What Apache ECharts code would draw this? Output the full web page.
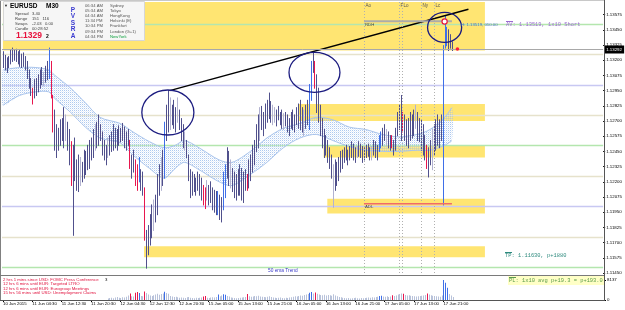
<!DOCTYPE html>
<html><head><meta charset="utf-8">
<script src="https://cdn.jsdelivr.net/npm/echarts@6/dist/echarts.min.js"></script>
<style>html,body{margin:0;padding:0;background:#fff}#c{width:625px;height:310px}</style>
</head><body><div id="c"></div>
<script>
// ================= DATA =================
const timeLabels = ['10 Jun 2015','11 Jun 04:30','11 Jun 12:30','11 Jun 20:30','12 Jun 04:30','12 Jun 12:30','12 Jun 20:30','15 Jun 05:00','15 Jun 13:00','15 Jun 21:00','16 Jun 05:00','16 Jun 13:00','16 Jun 21:00','17 Jun 05:00','17 Jun 13:00','17 Jun 21:00'];
const volumeTicks = [0, 8137];

const highs = [
1.1327,1.1324,1.1322,1.1323,1.1328,1.1330,1.1328,1.1329,1.1327,1.1328,
1.1325,1.1326,1.1323,1.1319,1.1312,1.1305,1.1297,1.1304,1.1305,1.1308,
1.1312,1.1314,1.1310,1.1315,1.1319,1.1330,1.1319,1.1291,1.1279,1.1267,
1.1264,1.1271,1.1272,1.1281,1.1275,1.1269,1.1263,1.1253,1.1250,1.1256,
1.1238,1.1242,1.1240,1.1236,1.1246,1.1245,1.1250,1.1254,1.1256,1.1263,
1.1267,1.1269,1.1275,1.1267,1.1261,1.1254,1.1250,1.1256,1.1258,1.1261,
1.1267,1.1264,1.1263,1.1266,1.1264,1.1268,1.1265,1.1261,1.1263,1.1254,
1.1242,1.1246,1.1238,1.1234,1.1240,1.1230,1.1228,1.1215,1.1180,1.1184,
1.1193,1.1201,1.1205,1.1209,1.1226,1.1234,1.1240,1.1246,1.1269,1.1283,
1.1295,1.1289,1.1283,1.1287,1.1281,1.1289,1.1279,1.1272,1.1267,1.1261,
1.1254,1.1242,1.1230,1.1228,1.1226,1.1223,1.1228,1.1226,1.1223,1.1217,
1.1215,1.1221,1.1217,1.1220,1.1215,1.1213,1.1212,1.1212,1.1209,1.1207,
1.1228,1.1234,1.1248,1.1245,1.1238,1.1231,1.1228,1.1226,1.1230,1.1234,
1.1231,1.1228,1.1230,1.1226,1.1238,1.1242,1.1250,1.1254,1.1267,1.1275,
1.1281,1.1282,1.1277,1.1284,1.1287,1.1293,1.1286,1.1283,1.1281,1.1279,
1.1282,1.1277,1.1279,1.1276,1.1277,1.1275,1.1272,1.1277,1.1279,1.1275,
1.1281,1.1284,1.1287,1.1281,1.1279,1.1283,1.1287,1.1300,1.1319,1.1327,
1.1319,1.1308,1.1297,1.1283,1.1272,1.1263,1.1258,1.1254,1.1248,1.1242,
1.1234,1.1238,1.1236,1.1240,1.1245,1.1246,1.1248,1.1250,1.1246,1.1249,
1.1253,1.1251,1.1248,1.1249,1.1253,1.1251,1.1249,1.1248,1.1250,1.1251,
1.1248,1.1249,1.1254,1.1253,1.1250,1.1258,1.1261,1.1264,1.1267,1.1263,
1.1261,1.1258,1.1258,1.1254,1.1264,1.1277,1.1283,1.1291,1.1277,1.1275,
1.1271,1.1272,1.1277,1.1275,1.1279,1.1283,1.1277,1.1272,1.1271,1.1267,
1.1258,1.1250,1.1248,1.1254,1.1263,1.1267,1.1271,1.1275,1.1271,1.1275,
1.1332,1.1356,1.1347,1.1345,1.1341,1.1335];

const lows = [
1.1314,1.1312,1.1310,1.1314,1.1317,1.1319,1.1320,1.1319,1.1317,1.1315,
1.1314,1.1315,1.1312,1.1305,1.1297,1.1291,1.1284,1.1289,1.1291,1.1294,
1.1297,1.1300,1.1299,1.1302,1.1304,1.1305,1.1289,1.1261,1.1246,1.1240,
1.1246,1.1250,1.1254,1.1248,1.1254,1.1246,1.1234,1.1217,1.1176,1.1221,
1.1213,1.1212,1.1217,1.1220,1.1223,1.1226,1.1230,1.1231,1.1238,1.1240,
1.1246,1.1248,1.1250,1.1254,1.1242,1.1238,1.1234,1.1240,1.1242,1.1245,
1.1246,1.1248,1.1246,1.1250,1.1253,1.1254,1.1248,1.1246,1.1250,1.1231,
1.1223,1.1228,1.1217,1.1213,1.1220,1.1213,1.1209,1.1172,1.1149,1.1160,
1.1168,1.1174,1.1180,1.1187,1.1193,1.1209,1.1213,1.1217,1.1223,1.1254,
1.1261,1.1263,1.1267,1.1264,1.1261,1.1269,1.1263,1.1254,1.1248,1.1246,
1.1240,1.1221,1.1207,1.1209,1.1212,1.1209,1.1213,1.1209,1.1205,1.1201,
1.1198,1.1205,1.1201,1.1203,1.1197,1.1195,1.1193,1.1193,1.1189,1.1187,
1.1197,1.1207,1.1223,1.1217,1.1215,1.1212,1.1207,1.1205,1.1209,1.1209,
1.1205,1.1203,1.1213,1.1213,1.1215,1.1221,1.1228,1.1234,1.1245,1.1248,
1.1254,1.1263,1.1258,1.1264,1.1269,1.1272,1.1269,1.1267,1.1269,1.1266,
1.1271,1.1267,1.1264,1.1263,1.1266,1.1261,1.1258,1.1264,1.1263,1.1261,
1.1267,1.1264,1.1263,1.1261,1.1258,1.1264,1.1267,1.1263,1.1287,1.1310,
1.1297,1.1277,1.1269,1.1258,1.1248,1.1240,1.1242,1.1236,1.1231,1.1223,
1.1199,1.1213,1.1217,1.1221,1.1228,1.1231,1.1236,1.1238,1.1234,1.1238,
1.1240,1.1238,1.1236,1.1240,1.1241,1.1240,1.1236,1.1238,1.1240,1.1241,
1.1238,1.1238,1.1242,1.1240,1.1238,1.1245,1.1248,1.1250,1.1254,1.1250,
1.1248,1.1246,1.1248,1.1242,1.1246,1.1258,1.1263,1.1254,1.1261,1.1254,
1.1250,1.1248,1.1254,1.1256,1.1258,1.1264,1.1254,1.1253,1.1246,1.1242,
1.1238,1.1231,1.1224,1.1234,1.1230,1.1242,1.1246,1.1250,1.1248,1.1254,
1.1201,1.1330,1.1332,1.1328,1.1330,1.1328];

const volumes = [
null,null,null,null,null,null,null,null,null,null,
null,null,null,null,null,null,null,null,null,null,
null,null,null,null,null,null,null,null,null,null,
null,null,null,null,null,null,null,null,null,null,
null,null,null,null,null,null,null,null,null,null,
null,null,null,null,null,null,null,
600,800,900,700,1000,1200,900,800,1100,1000,
1300,1800,2600,1500,1400,3000,3300,2800,1600,1500,
3500,2800,2200,1800,1600,1900,2200,2500,2100,2400,
2600,3400,2800,2500,1600,1400,1200,1300,1100,900,
1000,900,800,1100,1200,900,800,700,900,800,
900,1000,1400,1600,900,800,1000,1100,1000,1200,
2200,1500,1800,2300,2100,1600,1400,1000,900,800,
700,800,900,1000,1100,1200,2400,1500,1300,1400,
1600,1500,1700,1400,1300,1200,1100,1300,1500,1200,
1000,900,800,900,1000,800,700,900,800,1000,
1100,1300,1500,1400,1600,1800,1700,2000,2200,2400,
3000,3300,2600,3100,2500,2200,2000,1900,2100,1800,
2000,1900,1700,2300,1800,1500,1200,1100,900,800,
700,800,600,700,800,900,700,600,800,700,
800,900,1000,900,1100,1000,1200,1300,1600,1700,
1400,1300,1500,1200,1400,1900,1600,1800,2200,2400,
2600,2500,2000,1800,1900,1700,1600,1500,1400,1500,
1600,1700,1800,2000,2600,2200,1900,1700,1600,1500,
1400,1300,1800,8137,7000,5000,2400,1800,1200];

// EMA envelope read at sampled bars
const bandIdx = [0,9,18,25,28,37,45,53,64,71,80,88,94,99,107,118,125,135,144,153,162,171,180,189,198,207,216,226,233,241,245];
const bandTop = [1.1312,1.1314,1.1314,1.1312,1.1308,1.1297,1.1285,1.1273,1.1268,1.1261,1.1253,1.1248,1.1250,1.1254,1.1248,1.1238,1.1236,1.1245,1.1256,1.1264,1.1268,1.1273,1.1271,1.1265,1.1263,1.1259,1.1257,1.1259,1.1263,1.1273,1.1281];
const bandBot = [1.1283,1.1291,1.1294,1.1294,1.1289,1.1277,1.1265,1.1256,1.1252,1.1242,1.1231,1.1223,1.1231,1.1236,1.1230,1.1220,1.1217,1.1226,1.1236,1.1248,1.1256,1.1259,1.1254,1.1249,1.1246,1.1245,1.1245,1.1246,1.1246,1.1250,1.1254];

// supply/demand zones: [startBar, endBar, low, high]
const zones = [[0,263,1.1328,1.1368],[161,263,1.1270,1.1284],[175,263,1.1240,1.1250],[177,263,1.1194,1.1206],[77,263,1.1158,1.1167]];
const levels = [1.1150,1.1175,1.1200,1.1225,1.1250,1.1275,1.1300,1.1325,1.1350];
const sessions = [[197,'Ao'],[216,'F'],[218,'Lo'],[228,'Ny'],[235,'Lc']];
const trendLine = [[91,1.1295],[254,1.1362]];
const ellipses = [[90,1.1277,14.2,0.00185],[170,1.1310,13.9,0.00164],[241,1.1347,9.3,0.00123]];
const rdhLine = [197,245,1.1352];
const adlLine = [197,245,1.1202];
const entry = [241,1.13519];
const lastPrice = 1.13292;
const lastMarkBar = 248;
const Y_MIN = 1.11450, Y_MAX = 1.13679, Y_STEP = 0.00125;

// ================= STYLE =================
const RED = new Set([16,26,27,37,69,72,73,77,109,110,133,170,212,218,231]);
const BLUE = new Set([25,74,88,117,120,121,167,168,205,206,240,241,242]);
const LIGHT = new Set([22,34,42,50,57,82,86,91,95,99,111,124,140,147,148,153,164,180,193,201,209,225,234]);
function barColor(i){ if(RED.has(i)) return '#e8164e'; if(BLUE.has(i)) return '#3f6fe8'; if(LIGHT.has(i)) return '#b2b2d0'; return '#50508c'; }
function volColor(i){ if(RED.has(i)) return '#e8164e'; if(BLUE.has(i)) return '#3f6fe8'; return '#b8c2da'; }
function levelColor(v){ const k = Math.round(v*400)%4; return k===2?'#b4e6ae':(k===0?'#c8c8f2':'#e6e2cc'); }
const FONT = '"Liberation Sans", Arial, sans-serif';
const MONO = '"Liberation Mono", "DejaVu Sans Mono", monospace';

// categories (30-minute bars, Friday closes after 23:00)
const MON = ['Jan','Feb','Mar','Apr','May','Jun','Jul','Aug','Sep','Oct','Nov','Dec'];
const pad = n => (n<10?'0':'')+n;
const cats = [];
for (let t = Date.UTC(2015,5,10,20,30); cats.length < 328; t += 1800000) {
  const d = new Date(t), wd = d.getUTCDay(), h = d.getUTCHours(), m = d.getUTCMinutes();
  if (wd===6 || wd===0 || (wd===5 && h===23 && m===30)) continue;
  cats.push(d.getUTCDate()+' '+MON[d.getUTCMonth()]+' '+pad(h)+':'+pad(m));
}

// dotted pattern for the EMA band
const pat = document.createElement('canvas'); pat.width = 2; pat.height = 2;
const pg = pat.getContext('2d'); pg.fillStyle = 'rgba(160,192,236,0.85)'; pg.fillRect(0,0,1,1); pg.fillStyle='rgba(205,222,246,0.5)'; pg.fillRect(1,1,1,1);

function txt(x, y, text, size, color, o) {
  o = o || {};
  return {type:'text', x:x, y:y, z:100, silent:true, style:{text:text, font:(o.bold?'bold ':'')+size+'px '+(o.mono?MONO:FONT), fill:color, align:o.align||'left', verticalAlign:'middle'}};
}
function ln(x1,y1,x2,y2,c,w){ return {type:'line', z:90, silent:true, shape:{x1:x1,y1:y1,x2:x2,y2:y2}, style:{stroke:c, lineWidth:w||1}}; }

const tickShow = (idx) => idx % 16 === 0 && idx/16 < timeLabels.length;

const chart = echarts.init(document.getElementById('c'), null, {renderer:'canvas', width:625, height:310});

const option = {
  animation: false,
  backgroundColor: '#ffffff',
  grid: [
    {left:2, top:2, width:602, height:271},
    {left:2, top:280, width:602, height:20}
  ],
  xAxis: [
    {type:'category', gridIndex:0, data:cats, boundaryGap:true, show:false},
    {type:'category', gridIndex:1, data:cats, boundaryGap:true,
     axisLine:{show:false},
     axisTick:{show:true, alignWithLabel:true, interval:tickShow, length:2, lineStyle:{color:'#000'}},
     axisLabel:{show:true, interval:tickShow, align:'left', margin:2, fontSize:4.3, fontFamily:FONT, color:'#000', hideOverlap:false,
       formatter:(v, idx) => timeLabels[idx/16] || ''}}
  ],
  yAxis: [
    {type:'value', gridIndex:0, position:'right', min:Y_MIN, max:Y_MAX, interval:Y_STEP,
     axisLine:{show:false}, splitLine:{show:false},
     axisTick:{show:true, length:2, lineStyle:{color:'#000'}},
     axisLabel:{fontSize:4.4, fontFamily:FONT, color:'#000', margin:3, showMaxLabel:false, formatter:v=>v.toFixed(5)}},
    {type:'value', gridIndex:1, position:'right', min:volumeTicks[0], max:volumeTicks[1], interval:volumeTicks[1],
     axisLine:{show:false}, splitLine:{show:false},
     axisTick:{show:true, length:2, lineStyle:{color:'#000'}},
     axisLabel:{fontSize:4.4, fontFamily:FONT, color:'#000', margin:3, formatter:v=>String(v)}}
  ],
  series: [
    { // zones
      type:'custom', xAxisIndex:0, yAxisIndex:0, z:1, silent:true, clip:true,
      data: zones.map(z=>[z[0], z[2], z[1], z[3]]), encode:{x:[0,2], y:[1,3]},
      renderItem:(p, api) => {
        const a = api.coord([api.value(0), api.value(3)]), b = api.coord([api.value(2), api.value(1)]);
        return {type:'rect', shape:{x:a[0], y:a[1], width:b[0]-a[0], height:b[1]-a[1]}, style:{fill:'#ffe572'}};
      }
    },
    { // round-number levels
      type:'custom', xAxisIndex:0, yAxisIndex:0, z:2, silent:true, clip:true,
      data: levels.map(v=>[0, v]), encode:{x:0, y:1},
      renderItem:(p, api) => {
        const y = Math.round(api.coord([0, api.value(1)])[1]) + 0.5, cs = p.coordSys;
        return {type:'line', shape:{x1:cs.x, y1:y, x2:cs.x+cs.width, y2:y}, style:{stroke:levelColor(api.value(1)), lineWidth:1.5}};
      }
    },
    { // EMA band
      type:'custom', xAxisIndex:0, yAxisIndex:0, z:3, silent:true, clip:true,
      data: bandIdx.map((x,k)=>[x, bandBot[k], bandTop[k]]), encode:{x:0, y:[1,2]},
      renderItem:(p, api) => {
        if (p.dataIndex !== 0) return null;
        const top = bandIdx.map((x,k)=>api.coord([x, bandTop[k]]));
        const bot = bandIdx.map((x,k)=>api.coord([x, bandBot[k]]));
        return {type:'group', children:[
          {type:'polygon', shape:{points: top.concat(bot.slice().reverse()), smooth:0.25}, style:{fill:{image:pat, repeat:'repeat'}}},
          {type:'polyline', shape:{points:top, smooth:0.3}, style:{stroke:'#a9c4ec', lineWidth:1, fill:null}},
          {type:'polyline', shape:{points:bot, smooth:0.3}, style:{stroke:'#a9c4ec', lineWidth:1, fill:null}}
        ]};
      }
    },
    { // price bars (high-low)
      type:'custom', xAxisIndex:0, yAxisIndex:0, z:4, silent:true, clip:true,
      data: highs.map((h,i)=>[i, lows[i], h]), encode:{x:0, y:[1,2]},
      renderItem:(p, api) => {
        const i = api.value(0);
        const a = api.coord([i, api.value(1)]), b = api.coord([i, api.value(2)]);
        const x = Math.round(a[0]) + 0.5;
        return {type:'line', shape:{x1:x, y1:a[1]+0.5, x2:x, y2:b[1]-0.5}, style:{stroke:barColor(i), lineWidth:1}};
      }
    },
    { // trend line
      type:'line', xAxisIndex:0, yAxisIndex:0, z:5, silent:true, data:trendLine, symbol:'none',
      lineStyle:{color:'#000', width:1.5}
    },
    { // annotations
      type:'custom', xAxisIndex:0, yAxisIndex:0, z:6, silent:true, clip:false,
      data:[[0, lastPrice]], encode:{x:0, y:1},
      renderItem:(p, api) => {
        const cs = p.coordSys, ch = [];
        const bw = api.size([1, 0])[0];
        const by = Math.round(api.coord([0, lastPrice])[1]) + 0.5;
        ch.push({type:'line', shape:{x1:cs.x, y1:by, x2:cs.x+cs.width, y2:by}, style:{stroke:'#a8a8a8', lineWidth:1}});
        sessions.forEach(s => {
          const t = api.coord([s[0], Y_MAX]), b = api.coord([s[0], Y_MIN]);
          const x = Math.round(t[0]) + 0.5;
          ch.push({type:'line', shape:{x1:x, y1:t[1], x2:x, y2:b[1]}, style:{stroke:'#b0b0b0', lineWidth:1, lineDash:[1,2]}});
          ch.push({type:'text', x:x+1, y:t[1]+4, style:{text:s[1], font:'4.5px '+FONT, fill:'#555', align:'left', verticalAlign:'middle'}});
        });
        [[rdhLine,'#ababab',2,'RDH'],[adlLine,'#f06a6a',1.5,'ADL']].forEach(r => {
          const a = api.coord([r[0][0], r[0][2]]), b = api.coord([r[0][1], r[0][2]]);
          ch.push({type:'line', shape:{x1:a[0], y1:a[1], x2:b[0], y2:b[1]}, style:{stroke:r[1], lineWidth:r[2]}});
          ch.push({type:'text', x:a[0]+1, y:a[1]+3.5, style:{text:r[3], font:'4.3px '+FONT, fill:'#444', align:'left', verticalAlign:'middle'}});
        });
        ellipses.forEach(e => {
          const c = api.coord([e[0], e[1]]), t = api.coord([e[0], e[1]+e[3]]);
          ch.push({type:'ellipse', shape:{cx:c[0], cy:c[1], rx:e[2]*bw, ry:Math.abs(c[1]-t[1])}, style:{stroke:'#1c1c80', lineWidth:1.3, fill:null}});
        });
        const en = api.coord(entry);
        ch.push({type:'circle', shape:{cx:en[0], cy:en[1], r:2.6}, style:{stroke:'#e8163c', lineWidth:1.2, fill:'#fff'}});
        const lp = api.coord([lastMarkBar, lastPrice]);
        ch.push({type:'circle', shape:{cx:lp[0], cy:lp[1], r:1.8}, style:{fill:'#ff1a3a'}});
        const ax = cs.x + cs.width + 1;
        ch.push({type:'rect', shape:{x:ax, y:by-4, width:20, height:8}, style:{fill:'#000'}});
        ch.push({type:'text', x:ax+2, y:by, style:{text:lastPrice.toFixed(5), font:'4.4px '+FONT, fill:'#fff', align:'left', verticalAlign:'middle'}});
        return {type:'group', children:ch};
      }
    },
    { // volume
      type:'custom', xAxisIndex:1, yAxisIndex:1, z:4, silent:true, clip:true,
      data: volumes.map((v,i)=>[i, v]).filter(d=>d[1]!=null), encode:{x:0, y:1},
      renderItem:(p, api) => {
        const i = api.value(0);
        const a = api.coord([i, 0]), b = api.coord([i, api.value(1)]);
        const x = Math.round(a[0]);
        return {type:'rect', shape:{x:x, y:b[1], width:1, height:a[1]-b[1]}, style:{fill:volColor(i)}};
      }
    }
  ],
  graphic: { elements: [
    ln(0.5,0,0.5,300,'#808080'), ln(0,0.5,604,0.5,'#c8c8c8'),
    ln(604.5,0,604.5,301,'#555'), ln(0,275.5,604,275.5,'#7a7a7a'), ln(0,300.5,604.5,300.5,'#555'),
    {type:'rect', z:80, silent:true, shape:{x:3.5,y:1.5,width:141,height:39}, style:{fill:'#f6f6f6', stroke:'#d6d6d6', lineWidth:1}},
    txt(4,6,'▼',4,'#222'),
    txt(10,6.5,'EURUSD',6.5,'#000',{bold:true}), txt(46,6.5,'M30',6.5,'#000',{bold:true}),
    txt(15,14,'Spread',4.2,'#444'), txt(32,14,'3.40',4.2,'#444'),
    txt(15,19,'Range',4.2,'#444'), txt(32,19,'151   116',4.2,'#444'),
    txt(15,24,'Swaps',4.2,'#444'), txt(32,24,'-2.03   0.00',4.2,'#444'),
    txt(15,29,'Candle',4.2,'#444'), txt(32,29,'00:28:52',4.2,'#444'),
    txt(16,35.5,'1.1329',8.5,'#e8103c',{bold:true}), txt(46,37,'2',5,'#000',{bold:true}),
    txt(73,10,'P',6.5,'#3a3ad0',{bold:true,align:'center'}), txt(73,16.5,'V',6.5,'#3a3ad0',{bold:true,align:'center'}),
    txt(73,23,'S',6.5,'#3a3ad0',{bold:true,align:'center'}), txt(73,29.5,'R',6.5,'#3a3ad0',{bold:true,align:'center'}),
    txt(73,36,'A',6.5,'#3a3ad0',{bold:true,align:'center'}),
    txt(85,6,'06:34 AM',4.2,'#555'), txt(110,6,'Sydney',4.2,'#555'),
    txt(85,11,'05:34 AM',4.2,'#555'), txt(110,11,'Tokyo',4.2,'#555'),
    txt(85,16,'04:34 AM',4.2,'#555'), txt(110,16,'HongKong',4.2,'#555'),
    txt(85,21,'11:34 PM',4.2,'#555'), txt(110,21,'Helsinki (E)',4.2,'#555'),
    txt(85,26,'10:34 PM',4.2,'#555'), txt(110,26,'Frankfurt',4.2,'#555'),
    txt(85,31.5,'09:34 PM',4.2,'#555'), txt(110,31.5,'London (G+1)',4.2,'#555'),
    txt(85,37,'04:34 PM',4.2,'#555'), txt(110,37,'NewYork',4.2,'#10a040'),
    txt(461,25,'H: 1.13519, 010.00',4.3,'#4a70c0'),
    txt(506,25,'AV: 1.13519, 1x10 Short',5.4,'#9a6ad0',{mono:true}), ln(506,21.5,513,21.5,'#9a6ad0'),
    txt(505,256,'TP: 1.11630, p+1880',5.4,'#2e8a7e',{mono:true}), ln(505,252.5,512,252.5,'#2e8a7e'),
    txt(268,271,'50 ema Trend',4.8,'#3a3ac8'),
    txt(3,279.5,'2 hrs 1 mins since USD: FOMC Press Conference',4.3,'#e0103c'),
    txt(3,284,'12 hrs 6 mins until EUR: Targeted LTRO',4.3,'#e0103c'),
    txt(3,288.5,'12 hrs 6 mins until EUR: Eurogroup Meetings',4.3,'#e0103c'),
    txt(3,293,'15 hrs 56 mins until USD: Unemployment Claims',4.3,'#e0103c'),
    txt(105,280,'3',4.3,'#000'),
    {type:'rect', z:80, silent:true, shape:{x:508,y:276,width:96,height:9}, style:{fill:'#ffffc6'}},
    txt(509,280.5,'PL: 1x10 avg p+19.3 = p+193.0',5.4,'#5a9a4a',{mono:true}), ln(509,277.5,516,277.5,'#5a9a4a')
  ]}
};
chart.setOption(option);
</script>
</body></html>
